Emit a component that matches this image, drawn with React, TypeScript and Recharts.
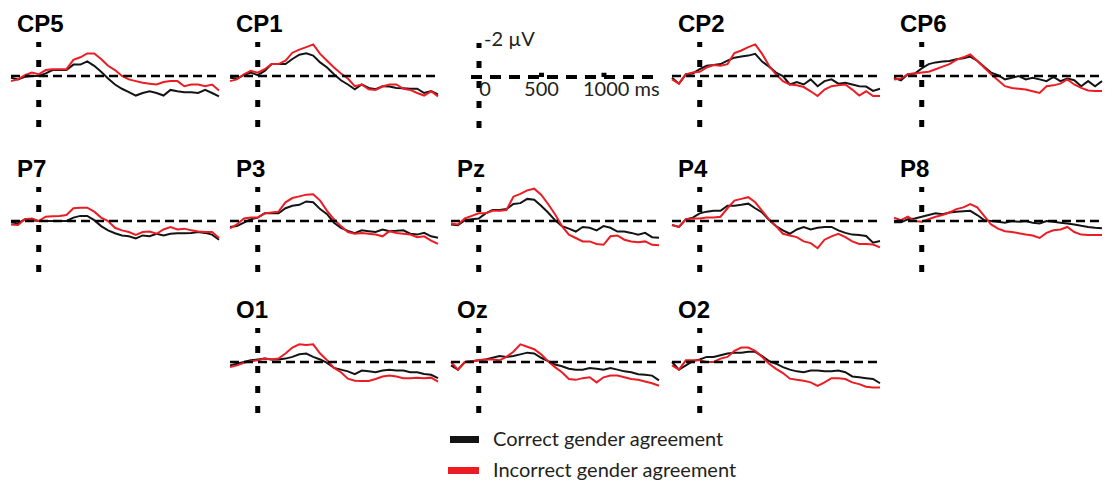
import { LineChart, Line, XAxis, YAxis, ReferenceLine } from "recharts";

// time points (ms), one sample every 50 ms
const TIMES = [
  -200, -150, -100, -50, 0, 50, 100, 150, 200, 250, 300, 350, 400, 450, 500, 550,
  600, 650, 700, 750, 800, 850, 900, 950, 1000, 1050, 1100, 1150, 1200, 1250, 1300,
];

// amplitudes in µV (negative plotted up)
const CP5_correct = [0.1, 0.2, 0.05, 0, 0, -0.15, -0.35, -0.35, -0.35, -0.67, -0.67, -0.86, -0.6, -0.25, 0.15, 0.5, 0.75, 0.95, 1.15, 1.0, 0.9, 1.0, 1.15, 0.82, 0.9, 0.95, 0.95, 1.0, 0.82, 1.0, 1.2];
const CP5_incorrect = [0.3, 0.2, -0.05, -0.2, -0.1, -0.35, -0.4, -0.4, -0.4, -0.95, -1.1, -1.33, -1.32, -1.0, -0.6, -0.35, 0.0, 0.2, 0.3, 0.4, 0.45, 0.5, 0.35, 0.3, 0.3, 0.6, 0.5, 0.5, 0.6, 0.5, 0.85];
const CP1_correct = [0.1, 0.15, -0.05, -0.2, -0.05, -0.3, -0.7, -0.7, -0.7, -1.0, -1.25, -1.33, -1.2, -0.8, -0.5, -0.1, 0.25, 0.5, 0.78, 0.5, 0.7, 0.78, 0.6, 0.62, 0.7, 0.72, 0.75, 0.75, 1.0, 0.88, 1.08];
const CP1_incorrect = [0.3, 0.2, -0.1, -0.3, -0.2, -0.4, -0.7, -0.7, -0.9, -1.37, -1.55, -1.7, -1.86, -1.3, -0.9, -0.5, -0.15, 0.15, 0.6, 0.5, 0.78, 0.82, 0.62, 0.5, 0.5, 0.75, 0.82, 1.0, 1.15, 0.9, 1.2];
const CP2_correct = [0.1, 0.45, -0.1, -0.15, -0.4, -0.6, -0.65, -0.7, -0.9, -1.08, -1.15, -1.2, -1.3, -0.85, -0.55, -0.2, 0.0, 0.5, 0.35, 0.5, 0.2, 0.6, 0.3, 0.2, 0.45, 0.4, 0.5, 0.6, 0.62, 0.88, 0.75];
const CP2_incorrect = [0.2, 0.45, -0.1, -0.2, -0.25, -0.5, -0.65, -0.6, -0.7, -1.35, -1.5, -1.7, -1.86, -1.3, -0.6, -0.1, 0.3, 0.5, 0.55, 0.65, 0.9, 1.18, 0.8, 0.6, 0.55, 0.5, 0.8, 1.15, 0.9, 1.18, 1.18];
const CP6_correct = [0.1, 0.25, -0.1, -0.15, -0.45, -0.7, -0.8, -0.85, -0.88, -0.98, -1.05, -1.14, -0.9, -0.55, -0.2, -0.05, 0.2, 0.1, 0.0, 0.2, 0.1, 0.2, 0.3, 0.05, 0.3, 0.15, 0.25, 0.6, 0.3, 0.6, 0.3];
const CP6_incorrect = [0.2, 0.15, -0.1, -0.15, -0.2, -0.25, -0.4, -0.55, -0.7, -0.95, -1.1, -1.27, -0.9, -0.5, -0.1, 0.25, 0.6, 0.7, 0.75, 0.8, 0.9, 1.0, 0.6, 0.55, 0.45, 0.2, 0.5, 0.7, 0.85, 0.88, 0.88];
const P7_correct = [0.08, 0.14, -0.1, -0.05, 0.0, 0.0, 0.0, 0.0, 0.0, -0.2, -0.3, -0.3, -0.05, 0.3, 0.55, 0.72, 0.85, 0.9, 1.02, 0.85, 0.9, 0.75, 0.85, 0.75, 0.72, 0.72, 0.7, 0.65, 0.7, 0.8, 1.1];
const P7_incorrect = [0.2, 0.24, -0.1, -0.15, 0.0, -0.25, -0.28, -0.3, -0.35, -0.75, -0.78, -0.78, -0.55, -0.2, 0.0, 0.4, 0.55, 0.65, 0.82, 0.65, 0.62, 0.75, 0.5, 0.35, 0.5, 0.45, 0.55, 0.62, 0.65, 0.65, 1.0];
const P3_correct = [0.35, 0.3, 0.1, -0.1, -0.2, -0.45, -0.45, -0.45, -0.75, -0.9, -0.95, -1.15, -1.1, -0.7, -0.4, 0.1, 0.4, 0.58, 0.72, 0.55, 0.6, 0.65, 0.5, 0.6, 0.58, 0.55, 0.75, 0.8, 0.7, 0.9, 0.98];
const P3_incorrect = [0.43, 0.2, -0.15, -0.2, -0.2, -0.45, -0.5, -0.55, -1.1, -1.35, -1.45, -1.55, -1.57, -1.2, -0.6, -0.1, 0.3, 0.65, 0.75, 0.7, 0.75, 0.8, 0.9, 0.6, 0.7, 0.75, 0.8, 0.95, 0.9, 1.15, 1.35];
const Pz_correct = [0.2, 0.25, -0.05, -0.1, -0.15, -0.45, -0.65, -0.65, -0.7, -1.0, -1.05, -1.3, -1.25, -0.9, -0.5, -0.05, 0.3, 0.45, 0.62, 0.35, 0.4, 0.55, 0.3, 0.4, 0.62, 0.62, 0.7, 0.8, 0.7, 0.95, 0.98];
const Pz_incorrect = [0.15, 0.2, -0.15, -0.3, -0.45, -0.45, -0.6, -0.6, -0.65, -1.43, -1.6, -1.8, -1.9, -1.55, -1.0, -0.4, 0.3, 0.8, 1.0, 1.2, 1.2, 1.35, 1.4, 0.9, 0.85, 1.1, 1.2, 1.25, 1.2, 1.4, 1.42];
const P4_correct = [0.24, 0.35, -0.1, -0.2, -0.45, -0.55, -0.6, -0.6, -0.9, -0.9, -0.95, -1.02, -0.75, -0.5, -0.05, 0.3, 0.55, 0.75, 0.5, 0.35, 0.5, 0.4, 0.35, 0.35, 0.55, 0.7, 0.8, 0.82, 0.88, 1.28, 1.18];
const P4_incorrect = [0.24, 0.35, -0.1, -0.15, -0.15, -0.2, -0.2, -0.25, -0.75, -1.2, -1.3, -1.4, -1.1, -0.6, -0.1, 0.3, 0.75, 0.85, 0.95, 1.2, 1.3, 1.6, 1.1, 0.9, 0.75, 0.95, 1.2, 1.35, 1.35, 1.38, 1.55];
const P8_correct = [0.08, 0.08, -0.1, -0.15, -0.25, -0.35, -0.45, -0.4, -0.5, -0.55, -0.58, -0.6, -0.35, -0.05, 0.0, 0.05, 0.1, 0.0, 0.05, 0.0, 0.1, 0.15, 0.0, 0.05, 0.1, 0.15, 0.2, 0.28, 0.35, 0.4, 0.42];
const P8_incorrect = [-0.2, -0.05, -0.25, 0.0, 0.05, -0.1, -0.25, -0.35, -0.5, -0.7, -0.8, -1.0, -0.8, -0.3, 0.2, 0.45, 0.6, 0.65, 0.72, 0.8, 0.85, 1.0, 0.7, 0.55, 0.5, 0.35, 0.65, 0.8, 0.82, 0.82, 0.82];
const O1_correct = [0.2, 0.1, 0.0, -0.1, -0.15, -0.2, -0.15, -0.15, -0.2, -0.3, -0.45, -0.5, -0.3, -0.15, 0.05, 0.35, 0.45, 0.55, 0.72, 0.5, 0.55, 0.6, 0.5, 0.45, 0.5, 0.5, 0.6, 0.6, 0.7, 0.75, 0.95];
const O1_incorrect = [0.3, 0.2, 0.05, -0.05, -0.1, -0.2, -0.15, -0.2, -0.5, -0.85, -1.04, -1.0, -1.04, -0.5, -0.1, 0.35, 0.6, 0.98, 1.1, 1.12, 1.12, 1.0, 0.85, 0.8, 0.85, 0.95, 0.95, 0.92, 0.95, 0.92, 1.15];
const Oz_correct = [0.2, 0.45, 0.0, -0.05, -0.1, -0.15, -0.25, -0.35, -0.3, -0.35, -0.45, -0.55, -0.5, -0.25, -0.05, 0.15, 0.25, 0.4, 0.45, 0.45, 0.35, 0.4, 0.45, 0.35, 0.45, 0.55, 0.6, 0.72, 0.75, 0.8, 1.08];
const Oz_incorrect = [0.0, 0.45, 0.0, -0.05, -0.1, -0.15, -0.15, -0.1, -0.3, -0.6, -1.04, -0.9, -0.75, -0.45, -0.05, 0.3, 0.6, 1.0, 1.05, 0.95, 0.9, 1.2, 0.9, 0.8, 0.8, 0.9, 1.0, 1.05, 1.15, 1.25, 1.4];
const O2_correct = [0.0, 0.45, 0.2, -0.05, -0.15, -0.3, -0.3, -0.4, -0.5, -0.55, -0.55, -0.6, -0.6, -0.35, -0.05, 0.1, 0.3, 0.45, 0.55, 0.6, 0.5, 0.5, 0.55, 0.55, 0.5, 0.6, 0.85, 0.9, 0.95, 1.0, 1.25];
const O2_incorrect = [0.2, 0.45, -0.1, -0.1, -0.1, 0.0, 0.0, -0.2, -0.3, -0.65, -0.85, -0.85, -0.65, -0.3, 0.1, 0.4, 0.65, 0.98, 1.05, 1.1, 1.2, 1.4, 1.2, 0.95, 0.95, 1.0, 1.2, 1.3, 1.45, 1.5, 1.5];

const SCALE_TICKS = [0, 500, 1000];
const SCALE_TICK_LABELS = ["0", "500", "1000 ms"];
const LEGEND = ["Correct gender agreement", "Incorrect gender agreement"];

const BLACK = "#141414";
const RED = "#ec1c24";
const TEXT = "#231f20";

const COL_X = [11, 230, 451, 672, 894];
const ROW_Y = [42, 187, 328];
const PW = 208;
const PH = 85;
const PAD = 4;

type PanelProps = { name: string; correct: number[]; incorrect: number[]; col: number; row: number };

function Panel({ name, correct, incorrect, col, row }: PanelProps) {
  const data = TIMES.map((t, i) => ({ t, correct: correct[i], incorrect: incorrect[i] }));
  const left = COL_X[col];
  const top = ROW_Y[row];
  return (
    <>
      <div
        style={{
          position: "absolute",
          left: left + 6,
          top: top - 9 - 21,
          font: "bold 24px 'Liberation Sans', Arial, sans-serif",
          lineHeight: "24px",
          color: "#000",
        }}
      >
        {name}
      </div>
      <div style={{ position: "absolute", left: left - PAD, top: top - PAD }}>
        <LineChart
          width={PW + 2 * PAD}
          height={PH + 2 * PAD}
          data={data}
          margin={{ top: PAD, right: PAD, bottom: PAD, left: PAD }}
        >
          <XAxis type="number" dataKey="t" domain={[-200, 1300]} hide />
          <YAxis type="number" domain={[-2, 3]} reversed hide allowDataOverflow />
          <Line type="linear" dataKey="correct" stroke={BLACK} strokeWidth={2} dot={false} isAnimationActive={false} />
          <Line type="linear" dataKey="incorrect" stroke={RED} strokeWidth={2} dot={false} isAnimationActive={false} />
          <ReferenceLine y={0} stroke="#000" strokeWidth={2.6} strokeDasharray="9 5" />
          <ReferenceLine x={0} stroke="#000" strokeWidth={5} strokeDasharray="7 13" />
        </LineChart>
      </div>
    </>
  );
}

const scaleText =
  (text: string, dx: number, dy: number, anchor: "start" | "middle" = "middle") =>
  (props: any) => {
    const vb = props.viewBox || { x: 0, y: 0 };
    return (
      <text x={vb.x + dx} y={vb.y + dy} textAnchor={anchor} fontSize={20} fontFamily="Lato, sans-serif" fill={TEXT}>
        {text}
      </text>
    );
  };

function ScalePanel() {
  const left = 471;
  const top = 43;
  const w = 186;
  const padTop = 20;
  const data = SCALE_TICKS.map((t) => ({ t, v: 0 }));
  return (
    <div style={{ position: "absolute", left: left - PAD, top: top - padTop }}>
      <LineChart
        width={w + 2 * PAD}
        height={PH + padTop + PAD}
        data={data}
        margin={{ top: padTop, right: PAD, bottom: PAD, left: PAD }}
      >
        <XAxis type="number" dataKey="t" domain={[-64, 1424]} hide />
        <YAxis type="number" domain={[-2, 3]} reversed hide />
        <Line dataKey="v" stroke="none" dot={false} isAnimationActive={false} />
        <ReferenceLine y={0} stroke="#000" strokeWidth={4} strokeDasharray="11 8" />
        <ReferenceLine x={0} stroke="#000" strokeWidth={5} strokeDasharray="7 13" label={scaleText("-2 µV", 5, 3, "start")} />
        {SCALE_TICKS.map((v, i) => (
          <ReferenceLine
            key={v}
            segment={[
              { x: v, y: 0 },
              { x: v, y: -0.25 },
            ]}
            stroke={v === 0 ? "none" : "#000"}
            strokeWidth={5}
            label={scaleText(SCALE_TICK_LABELS[i], i === 0 ? 6 : i === 2 ? -21 : 0, 23, i === 2 ? "start" : "middle")}
          />
        ))}
      </LineChart>
    </div>
  );
}

function Legend() {
  return (
    <svg width={1105} height={484} style={{ position: "absolute", left: 0, top: 0, pointerEvents: "none" }}>
      <rect x={450} y={436} width={29} height={7} fill={BLACK} />
      <rect x={448} y={467} width={31} height={7} fill={RED} />
      <text x={493} y={446} fontSize={20} fontFamily="Lato, sans-serif" fill={TEXT}>
        {LEGEND[0]}
      </text>
      <text x={493} y={477} fontSize={20} fontFamily="Lato, sans-serif" fill={TEXT}>
        {LEGEND[1]}
      </text>
    </svg>
  );
}

export default function App() {
  return (
    <div style={{ position: "absolute", left: 0, top: 0, width: 1105, height: 484, background: "#fff", overflow: "hidden" }}>
      <Legend />
      <Panel name="CP5" correct={CP5_correct} incorrect={CP5_incorrect} col={0} row={0} />
      <Panel name="CP1" correct={CP1_correct} incorrect={CP1_incorrect} col={1} row={0} />
      <ScalePanel />
      <Panel name="CP2" correct={CP2_correct} incorrect={CP2_incorrect} col={3} row={0} />
      <Panel name="CP6" correct={CP6_correct} incorrect={CP6_incorrect} col={4} row={0} />
      <Panel name="P7" correct={P7_correct} incorrect={P7_incorrect} col={0} row={1} />
      <Panel name="P3" correct={P3_correct} incorrect={P3_incorrect} col={1} row={1} />
      <Panel name="Pz" correct={Pz_correct} incorrect={Pz_incorrect} col={2} row={1} />
      <Panel name="P4" correct={P4_correct} incorrect={P4_incorrect} col={3} row={1} />
      <Panel name="P8" correct={P8_correct} incorrect={P8_incorrect} col={4} row={1} />
      <Panel name="O1" correct={O1_correct} incorrect={O1_incorrect} col={1} row={2} />
      <Panel name="Oz" correct={Oz_correct} incorrect={Oz_incorrect} col={2} row={2} />
      <Panel name="O2" correct={O2_correct} incorrect={O2_incorrect} col={3} row={2} />
    </div>
  );
}
